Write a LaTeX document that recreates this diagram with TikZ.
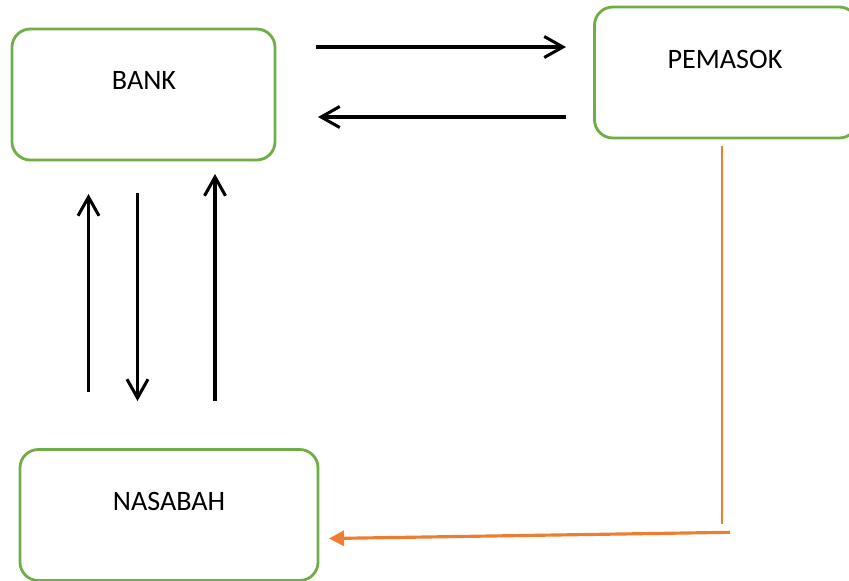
\documentclass[tikz,border=0pt]{standalone}
\usepackage{fontspec}
\setmainfont{Carlito}
\usetikzlibrary{arrows.meta}

\definecolor{boxgreen}{RGB}{112,173,71}
\definecolor{flworange}{RGB}{237,125,49}

\tikzset{
  party/.style={draw=boxgreen, line width=2.4pt, rounded corners=5.5mm,
    minimum width=7.89cm, minimum height=3.93cm, inner sep=0pt},
  partyname/.style={font=\fontsize{24}{28}\selectfont, inner sep=0pt},
  flow/.style={line width=2.6pt, -{Straight Barb[length=5.6mm,width=6.3mm]}},
  goods/.style={draw=flworange, line width=2.7pt, -{Triangle[length=4.5mm,width=4.5mm]}},
}

\begin{document}
\begin{tikzpicture}[x=0.03cm,y=-0.03cm]

\useasboundingbox (0,0) rectangle (849,580);

% Parties
\node[party] (bank) at (143.5,94.5) {};
\node[party] (pemasok) at (726,72.5) {};
\node[party, minimum width=8.94cm] (nasabah) at (169,515) {};

\node[partyname] (banklbl) at (144,80) {BANK};
\node[partyname] (pemasoklbl) at (725,59) {PEMASOK};
\node[partyname] (nasabahlbl) at (169,501) {NASABAH};

% Bank <-> Pemasok
\coordinate (bp1) at (316,47);
\coordinate (bp2) at (566,47);
\coordinate (pb1) at (566,117);
\coordinate (pb2) at (318,117);
\draw[flow] (bp1) -- (bp2);
\draw[flow] (pb1) -- (pb2);

% Bank <-> Nasabah
\coordinate (nb1) at (88.5,392);
\coordinate (nb2) at (88.5,194);
\coordinate (bn1) at (137.5,193);
\coordinate (bn2) at (137.5,401);
\coordinate (nc1) at (215,401);
\coordinate (nc2) at (215,174);
\draw[flow] (nb1) -- (nb2);
\draw[flow] (bn1) -- (bn2);
\draw[flow] (nc1) -- (nc2);

% Pemasok -> Nasabah
\coordinate (pn1) at (722,146);
\coordinate (pn2) at (722,524);
\coordinate (pn3) at (730,532.3);
\coordinate (pn4) at (329,538.5);
\draw[flworange, line width=1.2pt] (pn1) -- (pn2);
\draw[goods] (pn3) -- (pn4);

\end{tikzpicture}
\end{document}
